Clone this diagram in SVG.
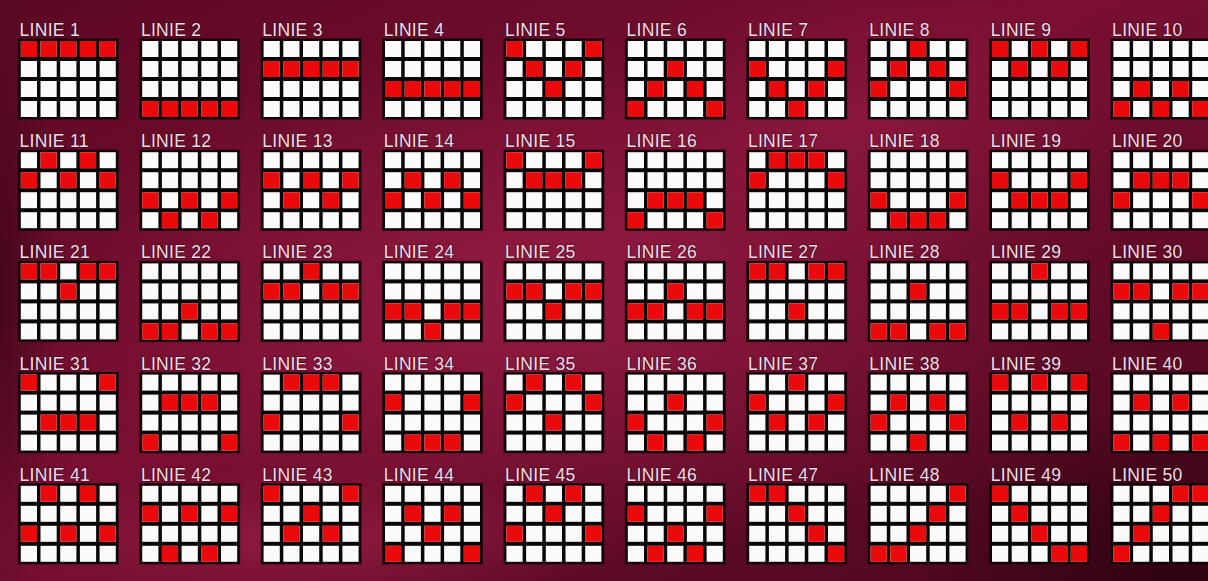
<svg xmlns="http://www.w3.org/2000/svg" xmlns:xlink="http://www.w3.org/1999/xlink" width="1208" height="581" viewBox="0 0 1208 581">
<defs>
<style>
.lbl{font-family:"Liberation Sans",Arial,sans-serif;font-size:17.5px;letter-spacing:0.3px;fill:#f4dde8;stroke:#2a0410;stroke-width:1.6px;stroke-opacity:0.6;paint-order:stroke}
.frame{fill:#0a0506;stroke:#1e0209;stroke-width:1.4;stroke-opacity:0.7}
.w{fill:#fbfafa}
.red{fill:#ea0a0c}
</style>
<linearGradient id="bgL" x1="0" y1="0" x2="1" y2="1">
<stop offset="0" stop-color="#5c0823"/>
<stop offset="0.45" stop-color="#7a0f32"/>
<stop offset="1" stop-color="#46061c"/>
</linearGradient>
<radialGradient id="glow1" cx="0.5" cy="0.5" r="0.5">
<stop offset="0" stop-color="#9c2048" stop-opacity="0.7"/>
<stop offset="1" stop-color="#9c2048" stop-opacity="0"/>
</radialGradient>
<radialGradient id="dark1" cx="0.5" cy="0.5" r="0.5">
<stop offset="0" stop-color="#28030f" stop-opacity="0.8"/>
<stop offset="1" stop-color="#28030f" stop-opacity="0"/>
</radialGradient>
<g id="grid">
<rect class="frame" x="0" y="0" width="99.6" height="80"/>
<rect class="w" x="2.3" y="2" width="16.2" height="16"/><rect class="w" x="22" y="2" width="16.2" height="16"/><rect class="w" x="41.7" y="2" width="16.2" height="16"/><rect class="w" x="61.4" y="2" width="16.2" height="16"/><rect class="w" x="81.1" y="2" width="16.2" height="16"/>
<rect class="w" x="2.3" y="22" width="16.2" height="16"/><rect class="w" x="22" y="22" width="16.2" height="16"/><rect class="w" x="41.7" y="22" width="16.2" height="16"/><rect class="w" x="61.4" y="22" width="16.2" height="16"/><rect class="w" x="81.1" y="22" width="16.2" height="16"/>
<rect class="w" x="2.3" y="42" width="16.2" height="16"/><rect class="w" x="22" y="42" width="16.2" height="16"/><rect class="w" x="41.7" y="42" width="16.2" height="16"/><rect class="w" x="61.4" y="42" width="16.2" height="16"/><rect class="w" x="81.1" y="42" width="16.2" height="16"/>
<rect class="w" x="2.3" y="62" width="16.2" height="16"/><rect class="w" x="22" y="62" width="16.2" height="16"/><rect class="w" x="41.7" y="62" width="16.2" height="16"/><rect class="w" x="61.4" y="62" width="16.2" height="16"/><rect class="w" x="81.1" y="62" width="16.2" height="16"/>
</g>
<rect id="c0" class="red" x="2.3" y="0" width="16.2" height="16"/>
<rect id="c1" class="red" x="22" y="0" width="16.2" height="16"/>
<rect id="c2" class="red" x="41.7" y="0" width="16.2" height="16"/>
<rect id="c3" class="red" x="61.4" y="0" width="16.2" height="16"/>
<rect id="c4" class="red" x="81.1" y="0" width="16.2" height="16"/>
</defs>
<g id="background">
<rect x="0" y="0" width="1208" height="581" fill="url(#bgL)"/>
<ellipse cx="560" cy="300" rx="520" ry="260" fill="url(#glow1)"/>
<ellipse cx="300" cy="540" rx="320" ry="70" fill="url(#glow1)"/>
<ellipse cx="880" cy="120" rx="260" ry="140" fill="url(#glow1)" opacity="0.6"/>
<ellipse cx="1180" cy="560" rx="260" ry="160" fill="url(#dark1)"/>
<ellipse cx="0" cy="300" rx="60" ry="320" fill="url(#dark1)" opacity="0.7"/>
</g>
<g id="connectors"/>
<g id="linie-1" transform="translate(18.5 39)"><text class="lbl" x="1" y="-3">LINIE 1</text><use href="#grid"/><use href="#c0" y="2"/><use href="#c1" y="2"/><use href="#c2" y="2"/><use href="#c3" y="2"/><use href="#c4" y="2"/></g>
<g id="linie-2" transform="translate(139.9 39)"><text class="lbl" x="1" y="-3">LINIE 2</text><use href="#grid"/><use href="#c0" y="62"/><use href="#c1" y="62"/><use href="#c2" y="62"/><use href="#c3" y="62"/><use href="#c4" y="62"/></g>
<g id="linie-3" transform="translate(261.3 39)"><text class="lbl" x="1" y="-3">LINIE 3</text><use href="#grid"/><use href="#c0" y="22"/><use href="#c1" y="22"/><use href="#c2" y="22"/><use href="#c3" y="22"/><use href="#c4" y="22"/></g>
<g id="linie-4" transform="translate(382.7 39)"><text class="lbl" x="1" y="-3">LINIE 4</text><use href="#grid"/><use href="#c0" y="42"/><use href="#c1" y="42"/><use href="#c2" y="42"/><use href="#c3" y="42"/><use href="#c4" y="42"/></g>
<g id="linie-5" transform="translate(504.1 39)"><text class="lbl" x="1" y="-3">LINIE 5</text><use href="#grid"/><use href="#c0" y="2"/><use href="#c1" y="22"/><use href="#c2" y="42"/><use href="#c3" y="22"/><use href="#c4" y="2"/></g>
<g id="linie-6" transform="translate(625.5 39)"><text class="lbl" x="1" y="-3">LINIE 6</text><use href="#grid"/><use href="#c0" y="62"/><use href="#c1" y="42"/><use href="#c2" y="22"/><use href="#c3" y="42"/><use href="#c4" y="62"/></g>
<g id="linie-7" transform="translate(746.9 39)"><text class="lbl" x="1" y="-3">LINIE 7</text><use href="#grid"/><use href="#c0" y="22"/><use href="#c1" y="42"/><use href="#c2" y="62"/><use href="#c3" y="42"/><use href="#c4" y="22"/></g>
<g id="linie-8" transform="translate(868.3 39)"><text class="lbl" x="1" y="-3">LINIE 8</text><use href="#grid"/><use href="#c0" y="42"/><use href="#c1" y="22"/><use href="#c2" y="2"/><use href="#c3" y="22"/><use href="#c4" y="42"/></g>
<g id="linie-9" transform="translate(989.7 39)"><text class="lbl" x="1" y="-3">LINIE 9</text><use href="#grid"/><use href="#c0" y="2"/><use href="#c1" y="22"/><use href="#c2" y="2"/><use href="#c3" y="22"/><use href="#c4" y="2"/></g>
<g id="linie-10" transform="translate(1111.1 39)"><text class="lbl" x="1" y="-3">LINIE 10</text><use href="#grid"/><use href="#c0" y="62"/><use href="#c1" y="42"/><use href="#c2" y="62"/><use href="#c3" y="42"/><use href="#c4" y="62"/></g>
<g id="linie-11" transform="translate(18.5 150.2)"><text class="lbl" x="1" y="-3">LINIE 11</text><use href="#grid"/><use href="#c0" y="22"/><use href="#c1" y="2"/><use href="#c2" y="22"/><use href="#c3" y="2"/><use href="#c4" y="22"/></g>
<g id="linie-12" transform="translate(139.9 150.2)"><text class="lbl" x="1" y="-3">LINIE 12</text><use href="#grid"/><use href="#c0" y="42"/><use href="#c1" y="62"/><use href="#c2" y="42"/><use href="#c3" y="62"/><use href="#c4" y="42"/></g>
<g id="linie-13" transform="translate(261.3 150.2)"><text class="lbl" x="1" y="-3">LINIE 13</text><use href="#grid"/><use href="#c0" y="22"/><use href="#c1" y="42"/><use href="#c2" y="22"/><use href="#c3" y="42"/><use href="#c4" y="22"/></g>
<g id="linie-14" transform="translate(382.7 150.2)"><text class="lbl" x="1" y="-3">LINIE 14</text><use href="#grid"/><use href="#c0" y="42"/><use href="#c1" y="22"/><use href="#c2" y="42"/><use href="#c3" y="22"/><use href="#c4" y="42"/></g>
<g id="linie-15" transform="translate(504.1 150.2)"><text class="lbl" x="1" y="-3">LINIE 15</text><use href="#grid"/><use href="#c0" y="2"/><use href="#c1" y="22"/><use href="#c2" y="22"/><use href="#c3" y="22"/><use href="#c4" y="2"/></g>
<g id="linie-16" transform="translate(625.5 150.2)"><text class="lbl" x="1" y="-3">LINIE 16</text><use href="#grid"/><use href="#c0" y="62"/><use href="#c1" y="42"/><use href="#c2" y="42"/><use href="#c3" y="42"/><use href="#c4" y="62"/></g>
<g id="linie-17" transform="translate(746.9 150.2)"><text class="lbl" x="1" y="-3">LINIE 17</text><use href="#grid"/><use href="#c0" y="22"/><use href="#c1" y="2"/><use href="#c2" y="2"/><use href="#c3" y="2"/><use href="#c4" y="22"/></g>
<g id="linie-18" transform="translate(868.3 150.2)"><text class="lbl" x="1" y="-3">LINIE 18</text><use href="#grid"/><use href="#c0" y="42"/><use href="#c1" y="62"/><use href="#c2" y="62"/><use href="#c3" y="62"/><use href="#c4" y="42"/></g>
<g id="linie-19" transform="translate(989.7 150.2)"><text class="lbl" x="1" y="-3">LINIE 19</text><use href="#grid"/><use href="#c0" y="22"/><use href="#c1" y="42"/><use href="#c2" y="42"/><use href="#c3" y="42"/><use href="#c4" y="22"/></g>
<g id="linie-20" transform="translate(1111.1 150.2)"><text class="lbl" x="1" y="-3">LINIE 20</text><use href="#grid"/><use href="#c0" y="42"/><use href="#c1" y="22"/><use href="#c2" y="22"/><use href="#c3" y="22"/><use href="#c4" y="42"/></g>
<g id="linie-21" transform="translate(18.5 261.4)"><text class="lbl" x="1" y="-3">LINIE 21</text><use href="#grid"/><use href="#c0" y="2"/><use href="#c1" y="2"/><use href="#c2" y="22"/><use href="#c3" y="2"/><use href="#c4" y="2"/></g>
<g id="linie-22" transform="translate(139.9 261.4)"><text class="lbl" x="1" y="-3">LINIE 22</text><use href="#grid"/><use href="#c0" y="62"/><use href="#c1" y="62"/><use href="#c2" y="42"/><use href="#c3" y="62"/><use href="#c4" y="62"/></g>
<g id="linie-23" transform="translate(261.3 261.4)"><text class="lbl" x="1" y="-3">LINIE 23</text><use href="#grid"/><use href="#c0" y="22"/><use href="#c1" y="22"/><use href="#c2" y="2"/><use href="#c3" y="22"/><use href="#c4" y="22"/></g>
<g id="linie-24" transform="translate(382.7 261.4)"><text class="lbl" x="1" y="-3">LINIE 24</text><use href="#grid"/><use href="#c0" y="42"/><use href="#c1" y="42"/><use href="#c2" y="62"/><use href="#c3" y="42"/><use href="#c4" y="42"/></g>
<g id="linie-25" transform="translate(504.1 261.4)"><text class="lbl" x="1" y="-3">LINIE 25</text><use href="#grid"/><use href="#c0" y="22"/><use href="#c1" y="22"/><use href="#c2" y="42"/><use href="#c3" y="22"/><use href="#c4" y="22"/></g>
<g id="linie-26" transform="translate(625.5 261.4)"><text class="lbl" x="1" y="-3">LINIE 26</text><use href="#grid"/><use href="#c0" y="42"/><use href="#c1" y="42"/><use href="#c2" y="22"/><use href="#c3" y="42"/><use href="#c4" y="42"/></g>
<g id="linie-27" transform="translate(746.9 261.4)"><text class="lbl" x="1" y="-3">LINIE 27</text><use href="#grid"/><use href="#c0" y="2"/><use href="#c1" y="2"/><use href="#c2" y="42"/><use href="#c3" y="2"/><use href="#c4" y="2"/></g>
<g id="linie-28" transform="translate(868.3 261.4)"><text class="lbl" x="1" y="-3">LINIE 28</text><use href="#grid"/><use href="#c0" y="62"/><use href="#c1" y="62"/><use href="#c2" y="22"/><use href="#c3" y="62"/><use href="#c4" y="62"/></g>
<g id="linie-29" transform="translate(989.7 261.4)"><text class="lbl" x="1" y="-3">LINIE 29</text><use href="#grid"/><use href="#c0" y="42"/><use href="#c1" y="42"/><use href="#c2" y="2"/><use href="#c3" y="42"/><use href="#c4" y="42"/></g>
<g id="linie-30" transform="translate(1111.1 261.4)"><text class="lbl" x="1" y="-3">LINIE 30</text><use href="#grid"/><use href="#c0" y="22"/><use href="#c1" y="22"/><use href="#c2" y="62"/><use href="#c3" y="22"/><use href="#c4" y="22"/></g>
<g id="linie-31" transform="translate(18.5 372.6)"><text class="lbl" x="1" y="-3">LINIE 31</text><use href="#grid"/><use href="#c0" y="2"/><use href="#c1" y="42"/><use href="#c2" y="42"/><use href="#c3" y="42"/><use href="#c4" y="2"/></g>
<g id="linie-32" transform="translate(139.9 372.6)"><text class="lbl" x="1" y="-3">LINIE 32</text><use href="#grid"/><use href="#c0" y="62"/><use href="#c1" y="22"/><use href="#c2" y="22"/><use href="#c3" y="22"/><use href="#c4" y="62"/></g>
<g id="linie-33" transform="translate(261.3 372.6)"><text class="lbl" x="1" y="-3">LINIE 33</text><use href="#grid"/><use href="#c0" y="42"/><use href="#c1" y="2"/><use href="#c2" y="2"/><use href="#c3" y="2"/><use href="#c4" y="42"/></g>
<g id="linie-34" transform="translate(382.7 372.6)"><text class="lbl" x="1" y="-3">LINIE 34</text><use href="#grid"/><use href="#c0" y="22"/><use href="#c1" y="62"/><use href="#c2" y="62"/><use href="#c3" y="62"/><use href="#c4" y="22"/></g>
<g id="linie-35" transform="translate(504.1 372.6)"><text class="lbl" x="1" y="-3">LINIE 35</text><use href="#grid"/><use href="#c0" y="22"/><use href="#c1" y="2"/><use href="#c2" y="42"/><use href="#c3" y="2"/><use href="#c4" y="22"/></g>
<g id="linie-36" transform="translate(625.5 372.6)"><text class="lbl" x="1" y="-3">LINIE 36</text><use href="#grid"/><use href="#c0" y="42"/><use href="#c1" y="62"/><use href="#c2" y="22"/><use href="#c3" y="62"/><use href="#c4" y="42"/></g>
<g id="linie-37" transform="translate(746.9 372.6)"><text class="lbl" x="1" y="-3">LINIE 37</text><use href="#grid"/><use href="#c0" y="22"/><use href="#c1" y="42"/><use href="#c2" y="2"/><use href="#c3" y="42"/><use href="#c4" y="22"/></g>
<g id="linie-38" transform="translate(868.3 372.6)"><text class="lbl" x="1" y="-3">LINIE 38</text><use href="#grid"/><use href="#c0" y="42"/><use href="#c1" y="22"/><use href="#c2" y="62"/><use href="#c3" y="22"/><use href="#c4" y="42"/></g>
<g id="linie-39" transform="translate(989.7 372.6)"><text class="lbl" x="1" y="-3">LINIE 39</text><use href="#grid"/><use href="#c0" y="2"/><use href="#c1" y="42"/><use href="#c2" y="2"/><use href="#c3" y="42"/><use href="#c4" y="2"/></g>
<g id="linie-40" transform="translate(1111.1 372.6)"><text class="lbl" x="1" y="-3">LINIE 40</text><use href="#grid"/><use href="#c0" y="62"/><use href="#c1" y="22"/><use href="#c2" y="62"/><use href="#c3" y="22"/><use href="#c4" y="62"/></g>
<g id="linie-41" transform="translate(18.5 483.8)"><text class="lbl" x="1" y="-3">LINIE 41</text><use href="#grid"/><use href="#c0" y="42"/><use href="#c1" y="2"/><use href="#c2" y="42"/><use href="#c3" y="2"/><use href="#c4" y="42"/></g>
<g id="linie-42" transform="translate(139.9 483.8)"><text class="lbl" x="1" y="-3">LINIE 42</text><use href="#grid"/><use href="#c0" y="22"/><use href="#c1" y="62"/><use href="#c2" y="22"/><use href="#c3" y="62"/><use href="#c4" y="22"/></g>
<g id="linie-43" transform="translate(261.3 483.8)"><text class="lbl" x="1" y="-3">LINIE 43</text><use href="#grid"/><use href="#c0" y="2"/><use href="#c1" y="42"/><use href="#c2" y="22"/><use href="#c3" y="42"/><use href="#c4" y="2"/></g>
<g id="linie-44" transform="translate(382.7 483.8)"><text class="lbl" x="1" y="-3">LINIE 44</text><use href="#grid"/><use href="#c0" y="62"/><use href="#c1" y="22"/><use href="#c2" y="42"/><use href="#c3" y="22"/><use href="#c4" y="62"/></g>
<g id="linie-45" transform="translate(504.1 483.8)"><text class="lbl" x="1" y="-3">LINIE 45</text><use href="#grid"/><use href="#c0" y="42"/><use href="#c1" y="2"/><use href="#c2" y="22"/><use href="#c3" y="2"/><use href="#c4" y="42"/></g>
<g id="linie-46" transform="translate(625.5 483.8)"><text class="lbl" x="1" y="-3">LINIE 46</text><use href="#grid"/><use href="#c0" y="22"/><use href="#c1" y="62"/><use href="#c2" y="42"/><use href="#c3" y="62"/><use href="#c4" y="22"/></g>
<g id="linie-47" transform="translate(746.9 483.8)"><text class="lbl" x="1" y="-3">LINIE 47</text><use href="#grid"/><use href="#c0" y="2"/><use href="#c1" y="2"/><use href="#c2" y="22"/><use href="#c3" y="42"/><use href="#c4" y="62"/></g>
<g id="linie-48" transform="translate(868.3 483.8)"><text class="lbl" x="1" y="-3">LINIE 48</text><use href="#grid"/><use href="#c0" y="62"/><use href="#c1" y="62"/><use href="#c2" y="42"/><use href="#c3" y="22"/><use href="#c4" y="2"/></g>
<g id="linie-49" transform="translate(989.7 483.8)"><text class="lbl" x="1" y="-3">LINIE 49</text><use href="#grid"/><use href="#c0" y="2"/><use href="#c1" y="22"/><use href="#c2" y="42"/><use href="#c3" y="62"/><use href="#c4" y="62"/></g>
<g id="linie-50" transform="translate(1111.1 483.8)"><text class="lbl" x="1" y="-3">LINIE 50</text><use href="#grid"/><use href="#c0" y="62"/><use href="#c1" y="42"/><use href="#c2" y="22"/><use href="#c3" y="2"/><use href="#c4" y="2"/></g>
</svg>
